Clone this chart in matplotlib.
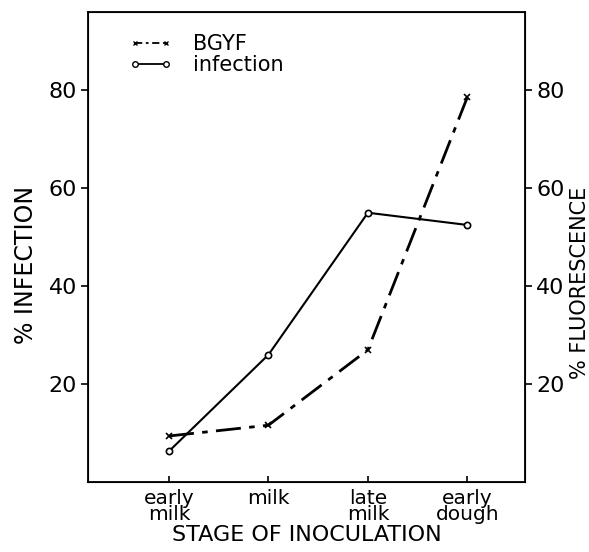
import matplotlib
matplotlib.use("Agg")
import matplotlib.pyplot as plt
from matplotlib.lines import Line2D
from matplotlib.legend_handler import HandlerLine2D

# stages of inoculation
stages = ["early\nmilk", "milk", "late\nmilk", "early\ndough"]
infection = [6.3, 26.0, 55.0, 52.5]
bgyf = [9.4, 11.6, 27.0, 78.6]
yticks = [20, 40, 60, 80]

plt.rcParams['font.family'] = ['DejaVu Sans']


class MarkerFirst(HandlerLine2D):
    # legend key with the marker only at the left end of the line
    def create_artists(self, legend, orig_handle, xdescent, ydescent,
                       width, height, fontsize, trans):
        arts = super().create_artists(legend, orig_handle, xdescent, ydescent,
                                      width, height, fontsize, trans)
        line, mk = arts[0], arts[-1]
        xd, yd = line.get_xdata(), line.get_ydata()
        mk.set_data([xd[0]], [yd[0]])
        line.set_data([xd[0] + 0.18 * (xd[-1] - xd[0]), xd[-1]], [yd[0], yd[-1]])
        return arts


fig = plt.figure(figsize=(5.89, 5.52), dpi=100)
ax = fig.add_axes([88/589, 1 - 482/552, (525-88)/589, (482-12)/552])

x = list(range(len(stages)))
ax.plot(x, bgyf, color='black', lw=2.0, dashes=(9, 3, 2, 3),
        marker='x', ms=4, mew=1.2)
ax.plot(x, infection, color='black', lw=1.5,
        marker='o', ms=4.5, mfc='white', mew=1.2)

ax.set_xlim(-0.815, 3.58)
ax.set_ylim(0, 96)
ax.set_xticks(x)
ax.set_xticklabels(stages, fontsize=14.5, linespacing=0.8)
ax.set_yticks(yticks)
ax.tick_params(axis='y', direction='out', labelsize=16, length=5, width=1.2, pad=3)
ax.tick_params(axis='x', direction='in', length=4, width=1.2, pad=5)
for s in ax.spines.values():
    s.set_linewidth(1.3)

ax.set_ylabel("% INFECTION", fontsize=17)
ax.yaxis.set_label_coords(-0.114, 0.462)
ax.set_xlabel("STAGE OF INOCULATION", fontsize=16, labelpad=1)

ax2 = ax.twinx()
ax2.set_ylim(0, 96)
ax2.set_yticks(yticks)
ax2.tick_params(axis='y', direction='out', labelsize=16, length=5, width=1.2, pad=3)
ax2.set_ylabel("% FLUORESCENCE", fontsize=15)
ax2.yaxis.set_label_coords(1.102, 0.423)

handles = [
    Line2D([], [], color='black', lw=1.3, dashes=(4, 2, 1.5, 2), marker='x',
           ms=3.5, mew=1.0),
    Line2D([], [], color='black', lw=1.3, marker='o', ms=4, mfc='white',
           mew=1.0),
]
ax.legend(handles, ["BGYF", "infection"], loc='upper left',
          bbox_to_anchor=(0.05, 0.98), frameon=False, numpoints=2,
          handler_map={Line2D: MarkerFirst()},
          fontsize=15, handlelength=2.4, handletextpad=1.0,
          labelspacing=0.05, borderaxespad=0.2)

fig.savefig("out.png", dpi=100)
